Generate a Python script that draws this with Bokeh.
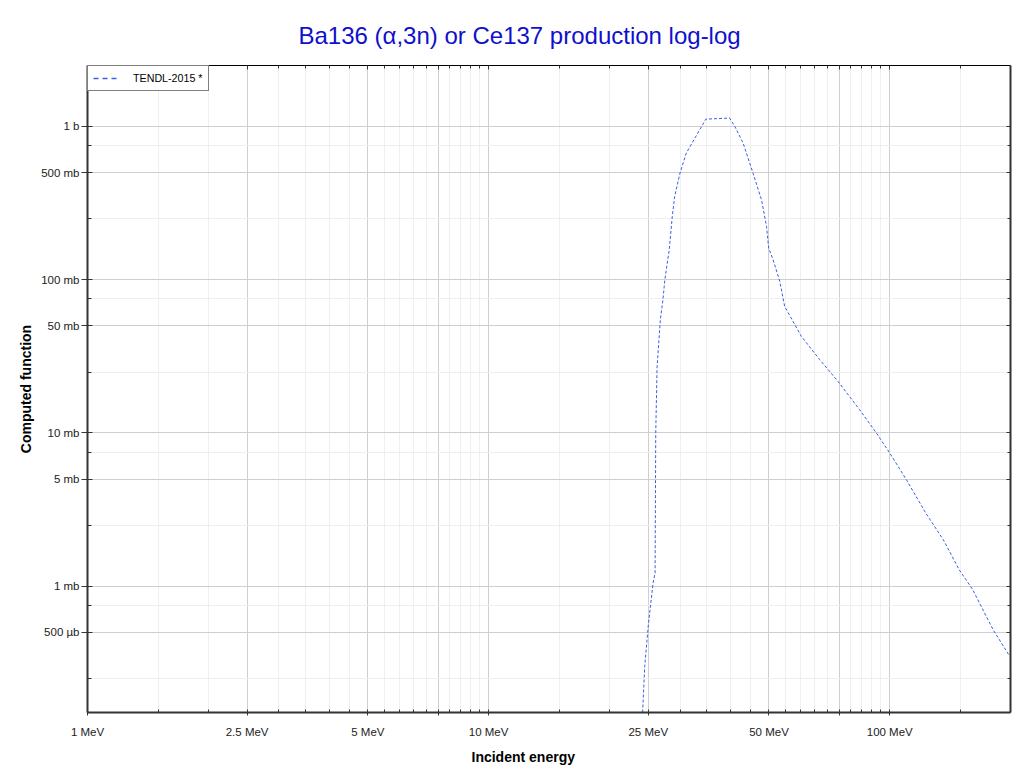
from bokeh.plotting import figure
from bokeh.models import Range1d, LogAxis, FixedTicker, Legend, LegendItem, ColumnDataSource, Title
from bokeh.embed import file_html
from bokeh.resources import INLINE

# Data (TENDL-2015), energy in MeV, cross section in mb
energy_mev = [24.2, 24.5, 25.0, 25.7, 26.0, 26.1, 26.3, 26.8, 27.2, 27.5, 28.2, 28.7,
              29.1, 30.0, 31.1, 34.8, 39.9, 41.1, 43.1, 45.6, 47.9, 49.3, 49.9, 51.2,
              53.2, 54.7, 60.2, 66.9, 74.3, 84.1, 92.6, 100, 110, 123, 136, 149, 161,
              181, 199]
xs_mb = [0.15, 0.30, 0.55, 1.05, 1.22, 10, 27, 55, 74, 100, 157, 259,
         350, 497, 671, 1117, 1134, 1000, 779, 497, 332, 223, 161, 135,
         97.5, 67, 42.7, 30.1, 21.7, 14.2, 10, 7.4, 4.96, 3.0, 2.01, 1.28, 0.95,
         0.52, 0.35]

series_label = "TENDL-2015 *"
title_text = "Ba136 (\u03b1,3n) or Ce137 production log-log"
x_title = "Incident energy"
y_title = "Computed function"

x_major = [1, 2.5, 5, 7.5, 10, 25, 50, 75, 100]
x_major_labels = ["1 MeV", "2.5 MeV", "5 MeV", "", "10 MeV", "25 MeV", "50 MeV", "", "100 MeV"]
x_minor = [1.5, 2, 3, 3.5, 4, 4.5, 5.5, 6, 6.5, 7, 8, 8.5, 9, 9.5,
           15, 20, 30, 35, 40, 45, 55, 60, 65, 70, 80, 85, 90, 95, 150, 200]
y_major = [1000, 500, 100, 50, 10, 5, 1, 0.5]
y_major_labels = ["1 b", "500 mb", "100 mb", "50 mb", "10 mb", "5 mb", "1 mb", "500 \u00b5b"]
y_minor = [750, 250, 75, 25, 7.5, 2.5, 0.75, 0.25]

FONT = "Liberation Sans"
LINE_COLOR = "#3b5fe2"
AX = "#333333"

p = figure(x_axis_type="log", y_axis_type="log",
           x_range=Range1d(1, 200), y_range=Range1d(0.15, 2500),
           frame_width=923, frame_height=647,
           min_border_left=87, min_border_right=8, min_border_top=65, min_border_bottom=56,
           output_backend="svg", toolbar_location=None,
           title=title_text)

p.title.text_font = FONT
p.title.text_font_size = "24px"
p.title.text_font_style = "normal"
p.title.text_color = "#1010cc"
p.title.align = "left"
p.title.offset = 211
p.title.standoff = 34
p.outline_line_color = None
p.background_fill_color = "white"
p.border_fill_color = "white"

src = ColumnDataSource(dict(x=energy_mev, y=xs_mb))
p.line("x", "y", source=src, line_color=LINE_COLOR, line_width=1, line_dash="3 2")
legend_glyph = p.line(x=[1, 1], y=[0.001, 0.001], line_color=LINE_COLOR, line_width=1.5, line_dash="5 4")

xt = FixedTicker(ticks=x_major, minor_ticks=x_minor)
yt = FixedTicker(ticks=y_major, minor_ticks=y_minor)

xo = {float(v): l for v, l in zip(x_major, x_major_labels)}
yo = {float(v): l for v, l in zip(y_major, y_major_labels)}

for ax in p.xaxis:
    ax.ticker = xt
    ax.major_label_overrides = xo
    ax.major_label_text_font = FONT
    ax.major_label_text_font_size = "11.5px"
    ax.major_label_text_color = "#222222"
    ax.major_label_standoff = 10
    ax.axis_line_color = AX
    ax.axis_line_width = 2
    ax.major_tick_line_color = AX
    ax.minor_tick_line_color = AX
    ax.major_tick_in = 3
    ax.major_tick_out = 3
    ax.minor_tick_in = 3
    ax.minor_tick_out = 0

for ax in p.yaxis:
    ax.ticker = yt
    ax.major_label_overrides = yo
    ax.axis_label = y_title
    ax.axis_label_text_font = FONT
    ax.axis_label_text_font_size = "14px"
    ax.axis_label_text_font_style = "bold"
    ax.axis_label_text_color = "black"
    ax.axis_label_standoff = 4
    ax.major_label_text_font = FONT
    ax.major_label_text_font_size = "11.5px"
    ax.major_label_text_color = "#222222"
    ax.major_label_standoff = 2
    ax.axis_line_color = AX
    ax.axis_line_width = 2
    ax.major_tick_line_color = AX
    ax.minor_tick_line_color = AX
    ax.major_tick_in = 5
    ax.major_tick_out = 6
    ax.minor_tick_in = 4
    ax.minor_tick_out = 0

xlab = Title(text=x_title, text_font=FONT, text_font_size="14px", text_font_style="bold",
             text_color="black", align="left", offset=384, standoff=13)
p.add_layout(xlab, "below")

top_axis = LogAxis(ticker=xt, major_label_text_font_size="0px", major_label_standoff=0,
                   axis_line_color="black", axis_line_width=1,
                   major_tick_in=4, major_tick_out=0, minor_tick_in=3, minor_tick_out=0,
                   major_tick_line_color=AX, minor_tick_line_color=AX)
top_axis.major_label_overrides = {float(v): "" for v in x_major}
p.add_layout(top_axis, "above")

right_axis = LogAxis(ticker=yt, major_label_text_font_size="0px", major_label_standoff=0,
                     axis_line_color=AX, axis_line_width=2,
                     major_tick_in=4, major_tick_out=0, minor_tick_in=3, minor_tick_out=0,
                     major_tick_line_color=AX, minor_tick_line_color=AX)
right_axis.major_label_overrides = {float(v): "" for v in y_major}
p.add_layout(right_axis, "right")

p.xgrid.grid_line_color = "#cfcfcf"
p.xgrid.minor_grid_line_color = "#efefef"
p.ygrid.grid_line_color = "#cfcfcf"
p.ygrid.minor_grid_line_color = "#efefef"

legend = Legend(items=[LegendItem(label=series_label, renderers=[legend_glyph])],
                location="top_left", margin=0, padding=5, spacing=0,
                glyph_width=25, glyph_height=14, label_height=14, label_standoff=15,
                label_text_font=FONT, label_text_font_size="10.7px", label_text_color="black",
                border_line_color="black", border_line_width=1,
                background_fill_color="white", background_fill_alpha=1)
p.add_layout(legend)

open("out.html", "w").write(file_html(p, INLINE))
